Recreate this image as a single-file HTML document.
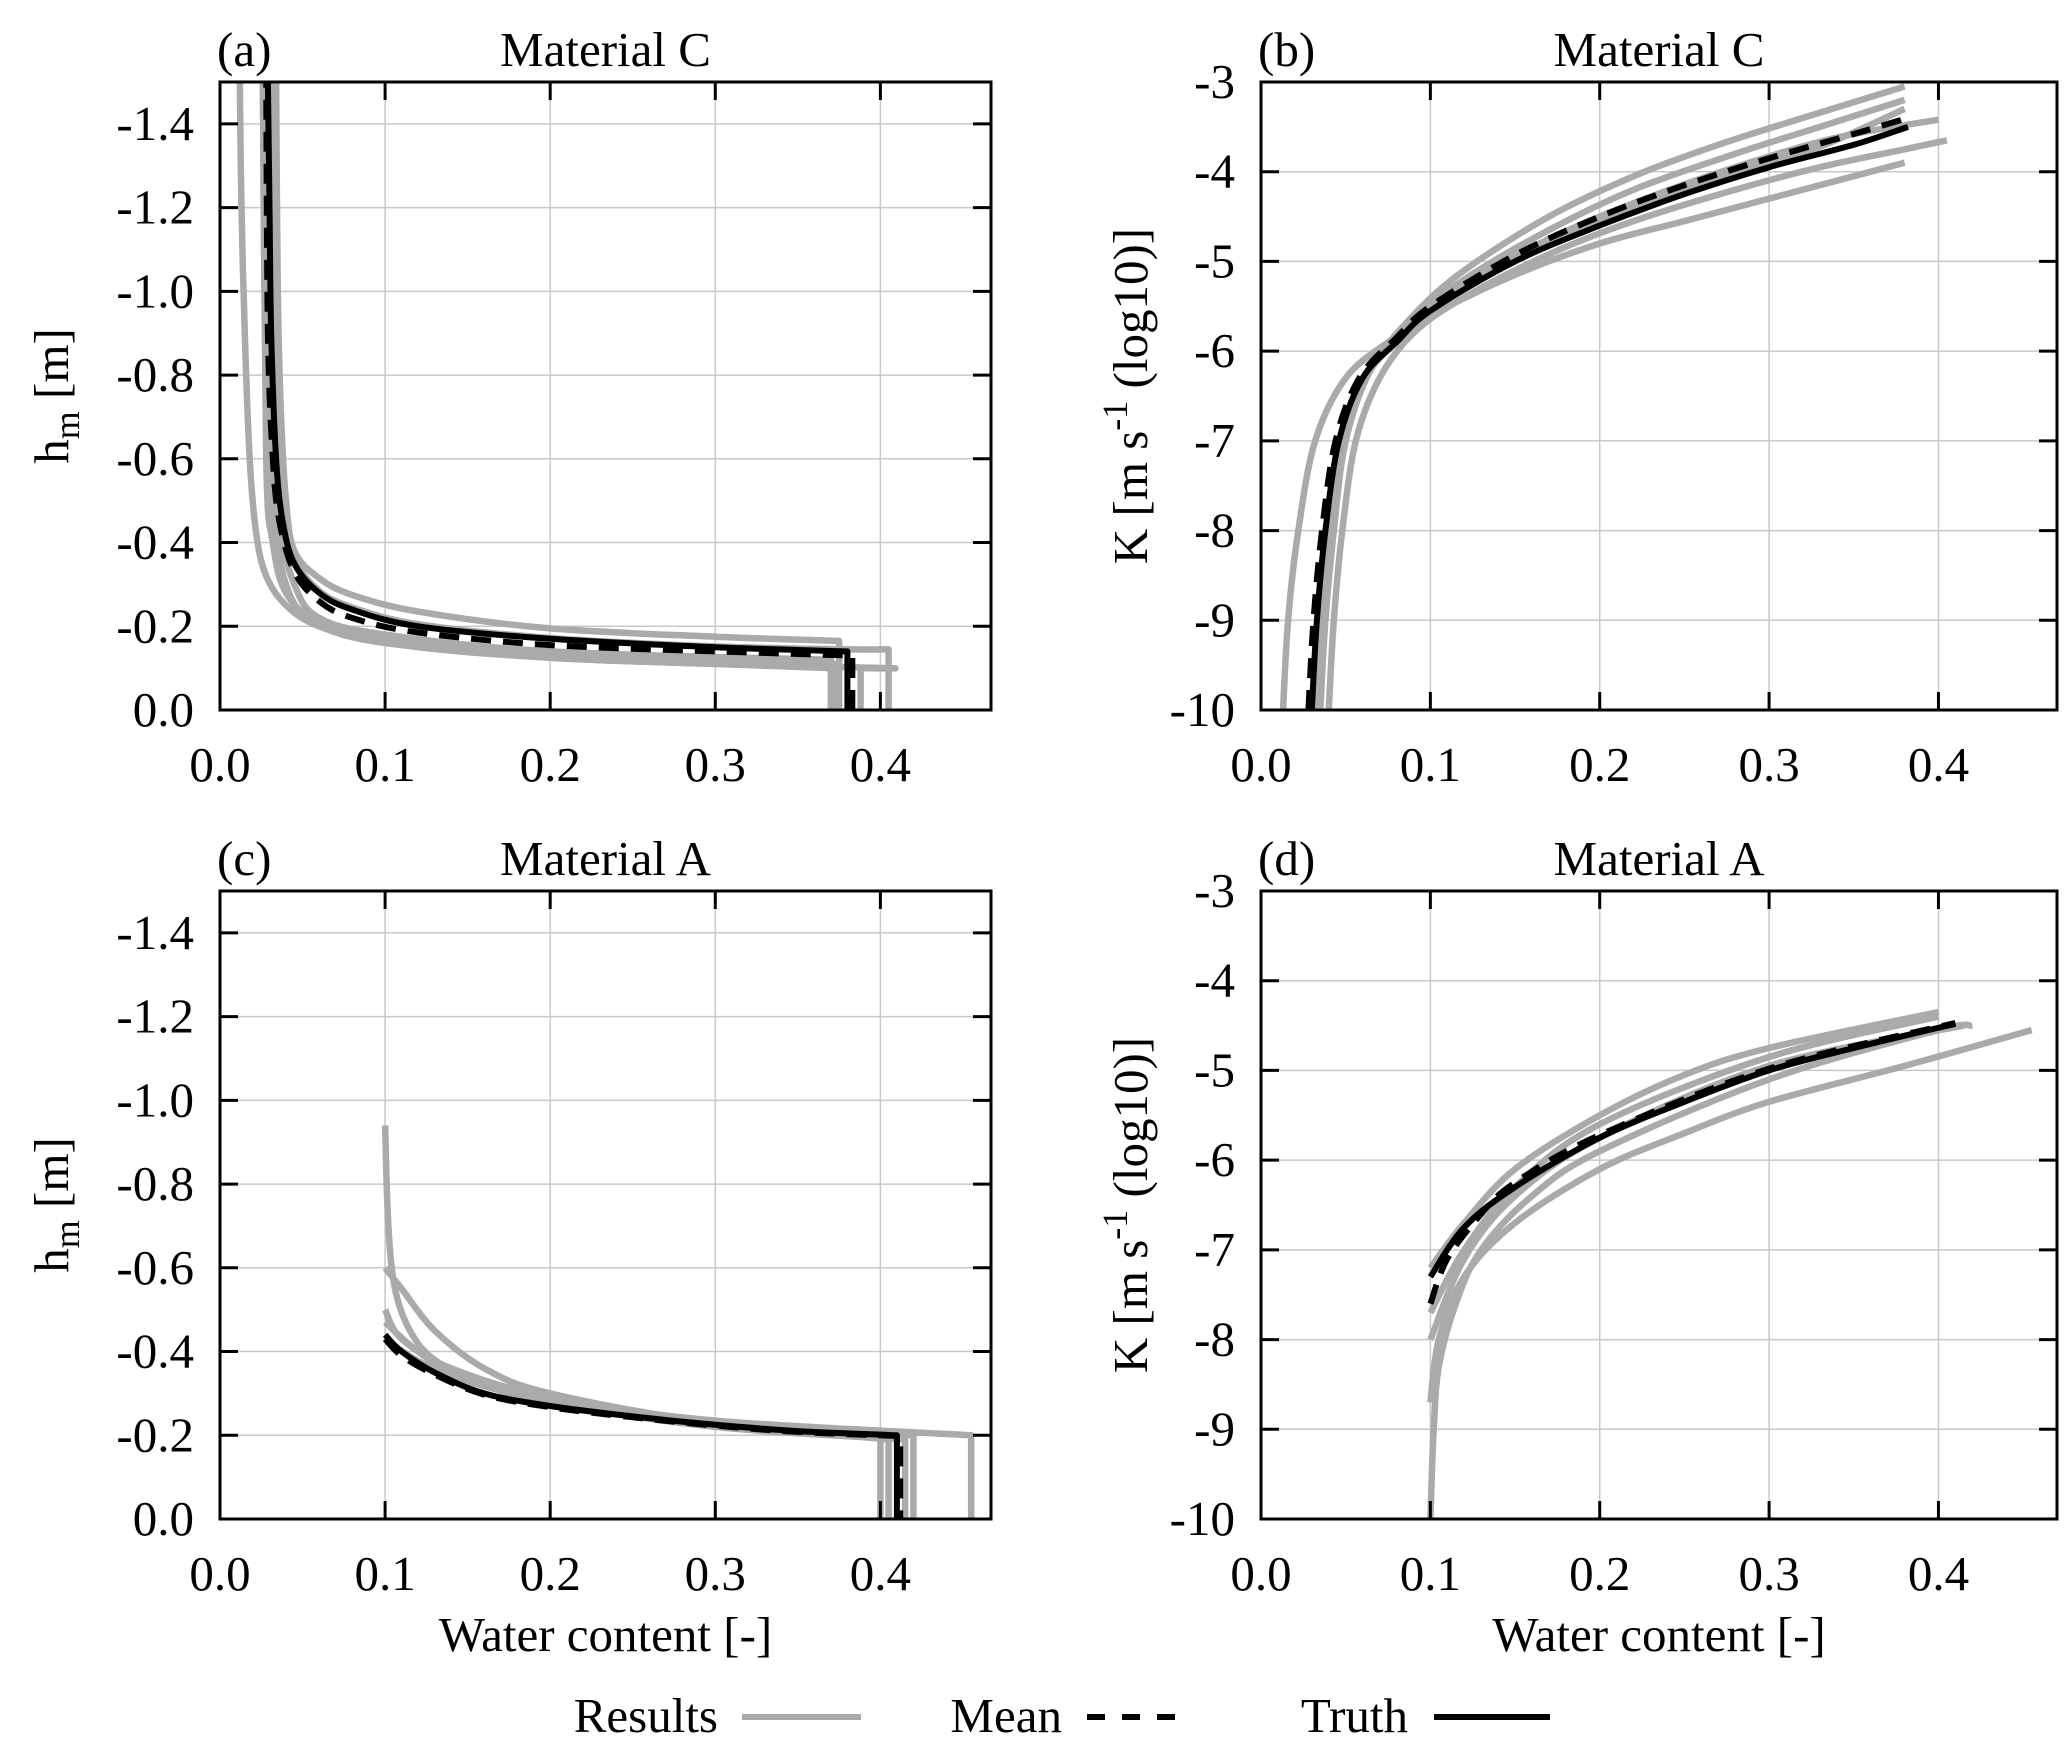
<!DOCTYPE html>
<html><head><meta charset="utf-8"><style>
html,body{margin:0;padding:0;background:#fff;}
svg{display:block;font-family:"Liberation Serif",serif;}
</style></head><body>
<svg id="fig" width="2067" height="1759" viewBox="0 0 2067 1759"></svg>
<script>
// ---- data (theta, value) per series ----
const aTruth=[[0.38,0],[0.38,0.14],[0.30,0.15],[0.20,0.17],[0.12,0.20],[0.08,0.24],[0.06,0.28],[0.045,0.35],[0.038,0.45],[0.034,0.6],[0.031,0.9],[0.030,1.2],[0.029,1.5]];
const aMean=[[0.383,0],[0.383,0.13],[0.30,0.14],[0.20,0.155],[0.12,0.185],[0.08,0.22],[0.06,0.26],[0.045,0.33],[0.036,0.45],[0.032,0.6],[0.029,0.9],[0.028,1.5]];
const aRes1=[[0.37,0],[0.37,0.10],[0.30,0.11],[0.20,0.125],[0.10,0.16],[0.06,0.20],[0.04,0.25],[0.028,0.32],[0.022,0.42],[0.018,0.6],[0.015,0.9],[0.013,1.2],[0.012,1.5]];
const aRes2=[[0.375,0],[0.375,0.165],[0.30,0.175],[0.20,0.195],[0.12,0.235],[0.08,0.275],[0.06,0.315],[0.045,0.38],[0.040,0.5],[0.037,0.7],[0.035,1.0],[0.034,1.5]];
const aRes3=[[0.405,0],[0.405,0.145],[0.38,0.145],[0.30,0.152],[0.20,0.172],[0.12,0.205],[0.08,0.245],[0.06,0.285],[0.045,0.36],[0.038,0.47],[0.034,0.65],[0.032,1.0],[0.031,1.5]];
const aRes4=[[0.388,0],[0.388,0.10],[0.405,0.10],[0.30,0.11],[0.20,0.125],[0.12,0.15],[0.07,0.19],[0.05,0.23],[0.04,0.3],[0.034,0.42],[0.031,0.6],[0.030,1.5]];
const aRes5=[[0.37,0],[0.37,0.12],[0.20,0.14],[0.10,0.18],[0.06,0.22],[0.045,0.30],[0.036,0.45],[0.030,0.7],[0.027,1.0],[0.026,1.5]];
const aRes6=[[0.372,0],[0.372,0.11],[0.20,0.13],[0.10,0.17],[0.06,0.21],[0.04,0.28],[0.032,0.4],[0.028,0.6],[0.026,1.5]];

const bTruth=[[0.030,-10],[0.033,-9],[0.038,-8],[0.046,-7],[0.06,-6.3],[0.08,-5.9],[0.10,-5.55],[0.15,-5.0],[0.20,-4.6],[0.25,-4.25],[0.30,-3.95],[0.35,-3.7],[0.382,-3.5]];
const bMean=[[0.028,-10],[0.031,-9],[0.036,-8],[0.044,-7],[0.058,-6.3],[0.08,-5.85],[0.10,-5.5],[0.15,-4.93],[0.20,-4.5],[0.25,-4.15],[0.30,-3.85],[0.35,-3.58],[0.382,-3.4]];
const bRes1=[[0.013,-10],[0.016,-9],[0.022,-8],[0.032,-7],[0.05,-6.3],[0.075,-5.9],[0.10,-5.6],[0.15,-5.15],[0.20,-4.8],[0.25,-4.55],[0.30,-4.3],[0.35,-4.05],[0.38,-3.9]];
const bRes2=[[0.040,-10],[0.043,-9],[0.048,-8],[0.056,-7],[0.07,-6.3],[0.09,-5.8],[0.12,-5.4],[0.17,-4.92],[0.22,-4.55],[0.28,-4.2],[0.33,-3.95],[0.38,-3.75],[0.405,-3.65]];
const bRes3=[[0.035,-10],[0.038,-9],[0.043,-8],[0.05,-7],[0.065,-6.2],[0.09,-5.6],[0.12,-5.1],[0.17,-4.5],[0.22,-4.05],[0.27,-3.7],[0.32,-3.4],[0.38,-3.05]];
const bRes4=[[0.033,-10],[0.036,-9],[0.041,-8],[0.049,-7],[0.063,-6.25],[0.09,-5.65],[0.12,-5.2],[0.17,-4.65],[0.22,-4.2],[0.28,-3.8],[0.33,-3.5],[0.38,-3.2]];
const bRes5=[[0.032,-10],[0.035,-9],[0.040,-8],[0.048,-7],[0.062,-6.28],[0.09,-5.7],[0.12,-5.25],[0.17,-4.75],[0.22,-4.35],[0.28,-3.95],[0.34,-3.62],[0.40,-3.42]];
const bRes6=[[0.031,-10],[0.034,-9],[0.039,-8],[0.047,-7],[0.061,-6.3],[0.09,-5.72],[0.12,-5.3],[0.17,-4.8],[0.22,-4.4],[0.28,-4.0],[0.33,-3.72],[0.38,-3.3]];

const cTruth=[[0.10,0.44],[0.11,0.40],[0.13,0.35],[0.16,0.30],[0.20,0.27],[0.25,0.245],[0.30,0.225],[0.35,0.21],[0.41,0.20],[0.41,0]];
const cMean=[[0.10,0.43],[0.11,0.39],[0.13,0.345],[0.16,0.297],[0.20,0.267],[0.25,0.243],[0.30,0.223],[0.35,0.208],[0.412,0.198],[0.412,0]];
const cRes1=[[0.10,0.94],[0.102,0.7],[0.106,0.55],[0.115,0.45],[0.13,0.38],[0.16,0.32],[0.20,0.28],[0.30,0.225],[0.40,0.20],[0.40,0]];
const cRes2=[[0.10,0.60],[0.11,0.55],[0.13,0.45],[0.16,0.36],[0.20,0.30],[0.30,0.23],[0.42,0.20],[0.42,0]];
const cRes3=[[0.10,0.50],[0.11,0.43],[0.14,0.36],[0.20,0.29],[0.30,0.235],[0.455,0.20],[0.455,0]];
const cRes4=[[0.10,0.47],[0.12,0.40],[0.15,0.33],[0.20,0.285],[0.30,0.23],[0.405,0.19],[0.405,0]];
const cRes5=[[0.10,0.43],[0.13,0.36],[0.20,0.28],[0.30,0.22],[0.415,0.19],[0.415,0]];

const dTruth=[[0.10,-7.3],[0.12,-6.75],[0.15,-6.3],[0.20,-5.75],[0.25,-5.35],[0.30,-5.0],[0.35,-4.75],[0.41,-4.48]];
const dMean=[[0.10,-7.6],[0.11,-7.1],[0.13,-6.6],[0.15,-6.25],[0.20,-5.72],[0.30,-4.98],[0.41,-4.47]];
const dRes1=[[0.10,-10],[0.102,-9],[0.105,-8.3],[0.115,-7.6],[0.13,-7.0],[0.16,-6.4],[0.20,-5.9],[0.30,-5.1],[0.40,-4.55],[0.42,-4.5]];
const dRes2=[[0.10,-8.7],[0.105,-8.0],[0.12,-7.3],[0.15,-6.7],[0.20,-6.1],[0.25,-5.7],[0.30,-5.35],[0.38,-4.95],[0.455,-4.55]];
const dRes3=[[0.10,-7.2],[0.12,-6.7],[0.15,-6.1],[0.20,-5.5],[0.25,-5.05],[0.30,-4.75],[0.40,-4.35]];
const dRes4=[[0.10,-7.7],[0.12,-7.0],[0.15,-6.3],[0.20,-5.6],[0.30,-4.85],[0.40,-4.4]];
const dRes5=[[0.10,-8.0],[0.12,-7.1],[0.15,-6.4],[0.20,-5.75],[0.30,-4.95],[0.415,-4.5]];

const xTicks=[0,0.1,0.2,0.3,0.4];
const xTickLabels=["0.0","0.1","0.2","0.3","0.4"];
const hTicks=[0,0.2,0.4,0.6,0.8,1.0,1.2,1.4];
const hTickLabels=["0.0","-0.2","-0.4","-0.6","-0.8","-1.0","-1.2","-1.4"];
const kTicks=[-10,-9,-8,-7,-6,-5,-4,-3];
const kTickLabels=["-10","-9","-8","-7","-6","-5","-4","-3"];

const NS="http://www.w3.org/2000/svg";
const svg=document.getElementById('fig');
const FS=49;
function mk(tag,attrs,parent,txt){const e=document.createElementNS(NS,tag);for(const k in attrs)e.setAttribute(k,attrs[k]);if(txt!==undefined)e.textContent=txt;(parent||svg).appendChild(e);return e;}

// smooth path: vertical steps drawn straight, other runs via catmull-rom
function smoothD(P){
  const runs=[];let cur=[P[0]];
  for(let i=1;i<P.length;i++){
    const a=P[i-1],b=P[i];
    if(Math.abs(a[0]-b[0])<0.5||Math.abs(a[1]-b[1])<0.5&&false){runs.push({v:true,pts:[a,b]});cur=[b];}
    else{
      if(runs.length&&!runs[runs.length-1].v){runs[runs.length-1].pts.push(b);}
      else runs.push({v:false,pts:[a,b]});
    }
  }
  let d='M'+P[0][0].toFixed(1)+','+P[0][1].toFixed(1);
  runs.forEach(r=>{
    const p=r.pts;
    if(r.v||p.length<3){for(let i=1;i<p.length;i++)d+='L'+p[i][0].toFixed(1)+','+p[i][1].toFixed(1);return;}
    for(let i=0;i<p.length-1;i++){
      const p0=p[i-1]||p[i],p1=p[i],p2=p[i+1],p3=p[i+2]||p[i+1];
      const c1=[p1[0]+(p2[0]-p0[0])/6,p1[1]+(p2[1]-p0[1])/6];
      const c2=[p2[0]-(p3[0]-p1[0])/6,p2[1]-(p3[1]-p1[1])/6];
      d+='C'+c1[0].toFixed(1)+','+c1[1].toFixed(1)+' '+c2[0].toFixed(1)+','+c2[1].toFixed(1)+' '+p2[0].toFixed(1)+','+p2[1].toFixed(1);
    }
  });
  return d;
}

function panel(id,L,T,R,B,xmax,ymin,ymax,yTicks,yLabels,letter,title,res,mean,truth,ylabelKind,showXTitle){
  const g=mk('g',{});
  
  
  const sx=v=>L+(v/xmax)*(R-L);
  const sy=v=>B-(v-ymin)/(ymax-ymin)*(B-T);
  xTicks.forEach(t=>{if(t>0){const l=mk('line',{x1:sx(t),x2:sx(t),y1:T,y2:B,stroke:'#c8c8c8','stroke-width':1.5},g);}});
  yTicks.forEach(t=>{if(t>ymin&&t<ymax){const l=mk('line',{x1:L,x2:R,y1:sy(t),y2:sy(t),stroke:'#c8c8c8','stroke-width':1.5},g);}});
  const clip=mk('clipPath',{id:'clip'+id},g);mk('rect',{x:L,y:T,width:R-L,height:B-T},clip);
  const cg=mk('g',{'clip-path':'url(#clip'+id+')'},g);
  const pathD=pts=>smoothD(pts.map(p=>[sx(p[0]),sy(p[1])]));
  res.forEach(s=>{const p=mk('path',{d:pathD(s),fill:'none',stroke:'#aaaaaa','stroke-width':6.5,'stroke-linejoin':'round'},cg);});
  const tp=mk('path',{d:pathD(truth),fill:'none',stroke:'#000','stroke-width':6,'stroke-linejoin':'round'},cg);
  
  const mp=mk('path',{d:pathD(mean),fill:'none',stroke:'#000','stroke-width':6,'stroke-dasharray':'20,12'},cg);
  
  xTicks.forEach((t,i)=>{
    mk('line',{x1:sx(t),x2:sx(t),y1:B,y2:B-18,stroke:'#000','stroke-width':3},g);
    mk('line',{x1:sx(t),x2:sx(t),y1:T,y2:T+18,stroke:'#000','stroke-width':3},g);
    const tl=mk('text',{x:sx(t),y:B+71,'font-size':FS,'text-anchor':'middle'},g,xTickLabels[i]);
    
  });
  yTicks.forEach((t,i)=>{
    mk('line',{x1:L,x2:L+18,y1:sy(t),y2:sy(t),stroke:'#000','stroke-width':3},g);
    mk('line',{x1:R,x2:R-18,y1:sy(t),y2:sy(t),stroke:'#000','stroke-width':3},g);
    const tl=mk('text',{x:L-26,y:sy(t)+16,'font-size':FS,'text-anchor':'end'},g,yLabels[i]);
    
  });
  const fr=mk('rect',{x:L,y:T,width:R-L,height:B-T,fill:'none',stroke:'#000','stroke-width':3},g);
  
  const lt=mk('text',{x:L-3,y:T-16,'font-size':FS},g,letter);
  
  const tt=mk('text',{x:(L+R)/2,y:T-16,'font-size':FS,'text-anchor':'middle'},g,title);
  
  const cy=(T+B)/2;
  let yl;
  if(ylabelKind==='h'){
    yl=mk('text',{x:0,y:0,'font-size':FS,'text-anchor':'middle',transform:'translate('+(L-152)+','+cy+') rotate(-90)'},g);
    mk('tspan',{},yl,'h');
    mk('tspan',{'font-size':36,dy:11},yl,'m');
    mk('tspan',{dy:-11},yl,' [m]');
  } else {
    yl=mk('text',{x:0,y:0,'font-size':FS,'text-anchor':'middle',transform:'translate('+(L-114)+','+cy+') rotate(-90)'},g);
    mk('tspan',{},yl,'K [m s');
    mk('tspan',{'font-size':36,dy:-20},yl,'-1');
    mk('tspan',{dy:20},yl,' (log10)]');
  }
  
  if(showXTitle){
    const xt=mk('text',{x:(L+R)/2,y:B+132,'font-size':FS,'text-anchor':'middle'},g,'Water content [-]');
    
  }
}
panel('a',220,82,991,710,0.467,0,1.5,hTicks,hTickLabels,'(a)','Material C',[aRes1,aRes2,aRes3,aRes4,aRes5,aRes6],aMean,aTruth,'h',false);
panel('b',1261,82,2057,710,0.470,-10,-3,kTicks,kTickLabels,'(b)','Material C',[bRes1,bRes2,bRes3,bRes4,bRes5,bRes6],bMean,bTruth,'k',false);
panel('c',220,891,991,1519,0.467,0,1.5,hTicks,hTickLabels,'(c)','Material A',[cRes1,cRes2,cRes3,cRes4,cRes5],cMean,cTruth,'h',true);
panel('d',1261,891,2057,1519,0.470,-10,-3,kTicks,kTickLabels,'(d)','Material A',[dRes1,dRes2,dRes3,dRes4,dRes5],dMean,dTruth,'k',true);

const lg=mk('g',{});


const legY=1732;
const t1=mk('text',{x:718,y:legY,'font-size':FS,'text-anchor':'end'},lg,'Results');

const l1=mk('line',{x1:742,x2:861,y1:legY-15,y2:legY-15,stroke:'#aaaaaa','stroke-width':6},lg);

const t2=mk('text',{x:1062,y:legY,'font-size':FS,'text-anchor':'end'},lg,'Mean');

const l2=mk('line',{x1:1087,x2:1190,y1:legY-15,y2:legY-15,stroke:'#000','stroke-width':6,'stroke-dasharray':'18,17'},lg);

const t3=mk('text',{x:1408,y:legY,'font-size':FS,'text-anchor':'end'},lg,'Truth');

const l3=mk('line',{x1:1434,x2:1550,y1:legY-15,y2:legY-15,stroke:'#000','stroke-width':6},lg);

</script>
</body></html>
